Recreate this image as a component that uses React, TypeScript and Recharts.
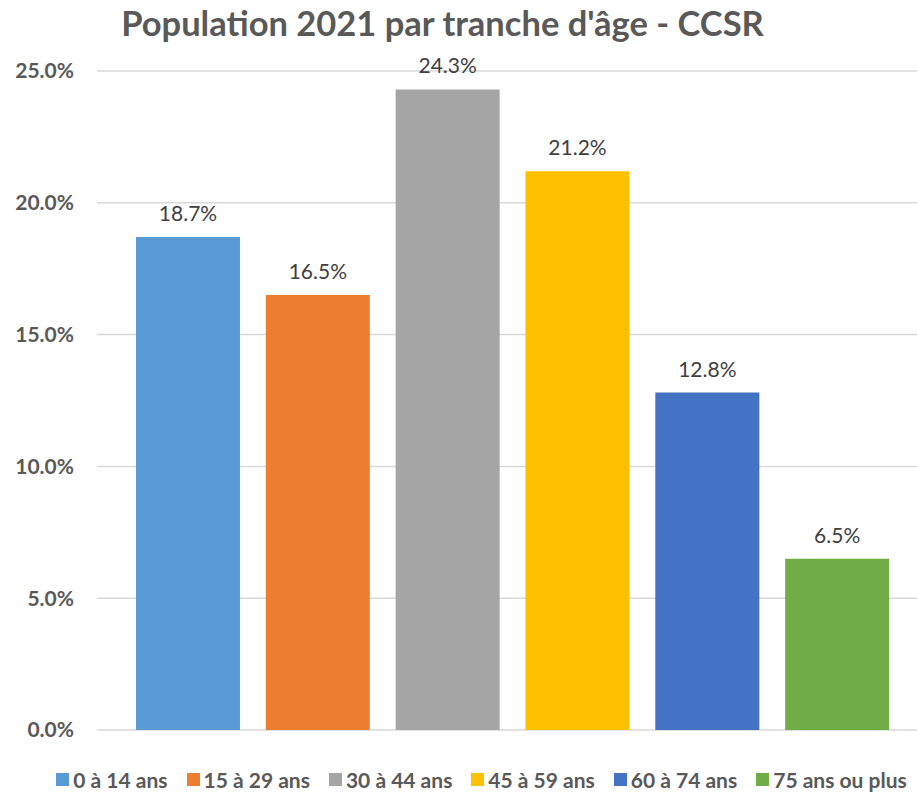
import React from 'react';
import { BarChart, Bar, XAxis, YAxis, CartesianGrid, Cell, LabelList } from 'recharts';

const categories = ['0 à 14 ans', '15 à 29 ans', '30 à 44 ans', '45 à 59 ans', '60 à 74 ans', '75 ans ou plus'];
const shares = [18.7, 16.5, 24.3, 21.2, 12.8, 6.5];
const colors = ['#5B9BD5', '#ED7D31', '#A5A5A5', '#FFC000', '#4472C4', '#70AD47'];
const yTicks = [0, 5, 10, 15, 20, 25];

const title = "Population 2021 par tranche d'âge - CCSR";
const font = 'Lato, "Open Sans", sans-serif';

const data = categories.map((name, i) => ({ name, value: shares[i] }));

const pct = (v: any) => `${Number(v).toFixed(1)}%`;

export default function App() {
  return (
    <div style={{ position: 'absolute', left: 0, top: 0, width: 917, height: 794, background: '#fff', fontFamily: font }}>
      <div
        style={{
          position: 'absolute',
          top: 2,
          left: 0,
          width: 885,
          textAlign: 'center',
          fontSize: 34.5,
          fontWeight: 700,
          color: '#595959',
        }}
      >
        {title}
      </div>

      <BarChart width={917} height={794} data={data} margin={{ top: 71, right: 0, bottom: 64, left: 0 }}>
        <CartesianGrid vertical={false} stroke="#D9D9D9" strokeWidth={1.5} />
        <XAxis dataKey="name" hide padding={{ left: 26, right: 15 }} />
        <YAxis
          width={97}
          domain={[0, 25]}
          ticks={yTicks}
          tickFormatter={pct}
          axisLine={false}
          tickLine={false}
          tickSize={0}
          tickMargin={23}
          tick={{ fill: '#595959', fontSize: 21, fontWeight: 700, fontFamily: font }}
        />
        <Bar dataKey="value" isAnimationActive={false}>
          {data.map((d, i) => (
            <Cell key={d.name} fill={colors[i]} />
          ))}
          <LabelList
            dataKey="value"
            position="top"
            offset={16}
            formatter={pct}
            style={{ fill: '#404040', fontSize: 21, fontFamily: font }}
          />
        </Bar>
      </BarChart>

      <div
        style={{
          position: 'absolute',
          top: 767,
          left: 0,
          width: 917,
          display: 'flex',
          justifyContent: 'center',
          paddingLeft: 46,
          boxSizing: 'border-box',
          gap: 19,
          fontSize: 21,
          fontWeight: 700,
          color: '#595959',
        }}
      >
        {categories.map((c, i) => (
          <div key={c} style={{ display: 'flex', alignItems: 'center', gap: 4 }}>
            <span style={{ display: 'inline-block', width: 13, height: 13, background: colors[i] }} />
            <span>{c}</span>
          </div>
        ))}
      </div>
    </div>
  );
}
